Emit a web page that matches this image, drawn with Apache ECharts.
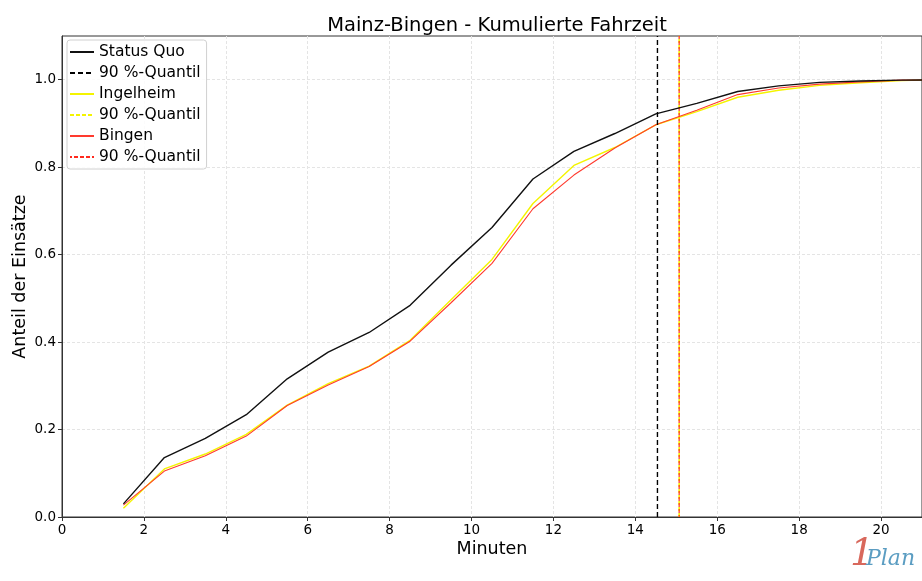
<!DOCTYPE html>
<html>
<head>
<meta charset="utf-8">
<script src="https://cdn.jsdelivr.net/npm/echarts@6/dist/echarts.min.js"></script>
<style>
  html, body { margin: 0; padding: 0; background: #fff; }
  #chart { width: 922px; height: 581px; }
</style>
</head>
<body>
<div id="chart"></div>
<script>
// Minuten (x-Werte der Stützstellen)
var minuten = [1.5, 2.5, 3.5, 4.5, 5.5, 6.5, 7.5, 8.5, 9.5, 10.5, 11.5, 12.5, 13.5, 14.5, 15.5, 16.5, 17.5, 18.5, 19.5, 20.5, 21.5];
// kumulierte Anteile
var statusQuo = [0.03, 0.136, 0.18, 0.234, 0.316, 0.377, 0.422, 0.484, 0.576, 0.662, 0.773, 0.836, 0.877, 0.922, 0.946, 0.973, 0.986, 0.994, 0.997, 0.999, 1.0];
var ingelheim = [0.02, 0.11, 0.144, 0.189, 0.256, 0.305, 0.345, 0.404, 0.497, 0.589, 0.717, 0.804, 0.845, 0.897, 0.927, 0.96, 0.976, 0.987, 0.993, 0.998, 1.0];
var bingen = [0.027, 0.105, 0.14, 0.185, 0.255, 0.302, 0.344, 0.402, 0.49, 0.58, 0.705, 0.782, 0.844, 0.897, 0.93, 0.966, 0.981, 0.99, 0.995, 0.999, 1.0];
// 90 %-Quantile
var quantilStatusQuo = 14.54;
var quantilIngelheim = 15.07;
var quantilBingen = 15.07;

function pairs(ys) {
  return minuten.map(function (x, i) { return [x, ys[i]]; });
}
function vline(x) {
  return [[x, 0], [x, 1.1]];
}

var chart = echarts.init(document.getElementById('chart'));
var font = 'DejaVu Sans';

var option = {
  animation: false,
  textStyle: { fontFamily: font },
  title: {
    text: 'Mainz-Bingen - Kumulierte Fahrzeit',
    left: 492,
    top: 11,
    textAlign: 'center',
    textStyle: { fontFamily: font, fontSize: 19.5, fontWeight: 'normal', color: '#000' }
  },
  legend: {
    orient: 'vertical',
    left: 67,
    top: 40,
    padding: [4, 6, 4, 2],
    itemGap: 5,
    itemWidth: 24,
    itemHeight: 17,
    backgroundColor: 'rgba(255,255,255,0.85)',
    borderColor: '#d0d0d0',
    borderWidth: 1,
    borderRadius: 3,
    itemStyle: { color: 'transparent', borderColor: 'transparent', borderWidth: 0 },
    textStyle: { fontFamily: font, fontSize: 15.5, color: '#000' },
    data: ['Status Quo', 'SQ90', 'Ingelheim', 'IN90', 'Bingen', 'BI90'],
    formatter: function (name) {
      return name.indexOf('90') > 0 ? '90 %-Quantil' : name;
    }
  },
  grid: {
    left: 62,
    right: 0,
    top: 36,
    bottom: 64,
    outerBoundsMode: 'none',
    show: true,
    borderColor: '#333',
    borderWidth: 1,
    backgroundColor: 'transparent'
  },
  xAxis: {
    type: 'value',
    min: 0,
    max: 21,
    interval: 2,
    name: 'Minuten',
    nameLocation: 'middle',
    nameGap: 23,
    nameMoveOverlap: false,
    nameTextStyle: { fontFamily: font, fontSize: 17.5, color: '#000' },
    axisLine: { show: true, lineStyle: { color: '#333' } },
    axisTick: { show: true, length: 4, lineStyle: { color: '#333' } },
    axisLabel: { fontFamily: font, fontSize: 13.5, color: '#000', margin: 6, showMaxLabel: false },
    splitLine: { show: true, showMaxLine: false, lineStyle: { color: '#e4e4e4', type: [3, 2] } }
  },
  yAxis: {
    type: 'value',
    min: 0,
    max: 1.1,
    interval: 0.2,
    name: 'Anteil der Einsätze',
    nameLocation: 'middle',
    nameGap: 33,
    nameMoveOverlap: false,
    nameTextStyle: { fontFamily: font, fontSize: 17.5, color: '#000' },
    axisLine: { show: true, lineStyle: { color: '#333' } },
    axisTick: { show: true, length: 4, lineStyle: { color: '#333' } },
    axisLabel: {
      fontFamily: font, fontSize: 13.5, color: '#000', margin: 6, showMaxLabel: false,
      formatter: function (v) { return v.toFixed(1); }
    },
    splitLine: { show: true, showMaxLine: false, lineStyle: { color: '#e4e4e4', type: [3, 2] } }
  },
  series: [
    {
      name: 'Status Quo', type: 'line', data: pairs(statusQuo), symbol: 'none',
      lineStyle: { color: '#111', width: 1.4 }, itemStyle: { color: '#111' }, z: 4
    },
    {
      name: 'SQ90', type: 'line', data: vline(quantilStatusQuo), symbol: 'none',
      lineStyle: { color: '#000', width: 1.4, type: [5, 3] }, itemStyle: { color: '#000' }, z: 4
    },
    {
      name: 'Ingelheim', type: 'line', data: pairs(ingelheim), symbol: 'none',
      lineStyle: { color: '#f4f400', width: 1.4 }, itemStyle: { color: '#f4f400' }, z: 2
    },
    {
      name: 'IN90', type: 'line', data: vline(quantilIngelheim), symbol: 'none',
      lineStyle: { color: '#f4f400', width: 1.6, type: [4, 2] }, itemStyle: { color: '#f4f400' }, z: 2
    },
    {
      name: 'Bingen', type: 'line', data: pairs(bingen), symbol: 'none',
      lineStyle: { color: '#ff3a2e', width: 1.1 }, itemStyle: { color: '#ff3a2e' }, z: 3
    },
    {
      name: 'BI90', type: 'line', data: vline(quantilBingen), symbol: 'none',
      lineStyle: { color: '#ff2a1e', width: 1.2, type: [4, 2], dashOffset: 2 }, itemStyle: { color: '#ff3a2e' }, z: 3
    }
  ],
  graphic: [
    {
      type: 'text', left: 850, top: 536,
      style: { text: '1', font: 'italic 38px "DejaVu Serif"', fill: '#d8685c' }
    },
    {
      type: 'text', left: 866, top: 548,
      style: { text: 'Plan', font: 'italic 22px "DejaVu Serif"', fill: '#5b9dc2' }
    }
  ]
};

option && chart.setOption(option);
</script>
</body>
</html>
